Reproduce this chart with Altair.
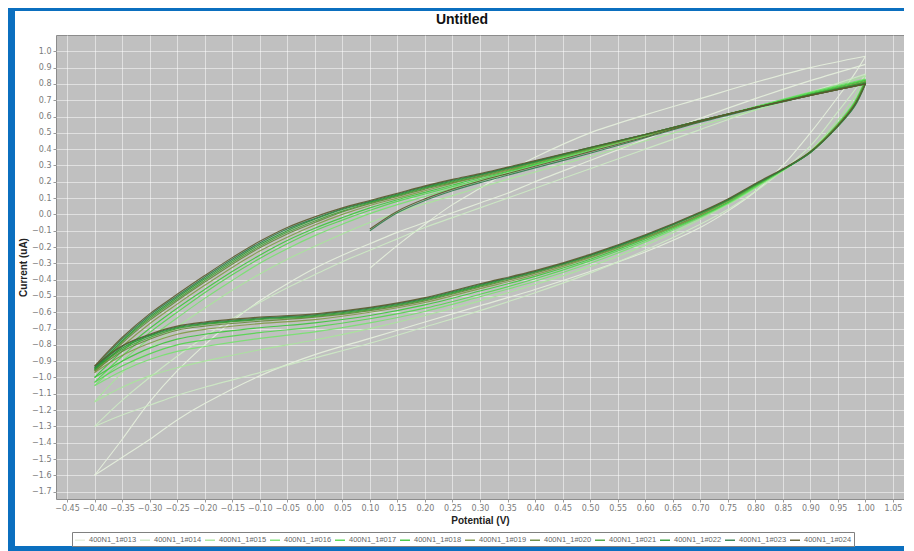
import altair as alt
import pandas as pd

# ---------------- data ----------------
SERIES = ["400N1_1#013", "400N1_1#014", "400N1_1#015", "400N1_1#016",
          "400N1_1#017", "400N1_1#018", "400N1_1#019", "400N1_1#020",
          "400N1_1#021", "400N1_1#022", "400N1_1#023", "400N1_1#024"]
COLORS = ["#e6efdd", "#cdeac4", "#a8e59b", "#76e26e", "#52d64c", "#3cc63a",
          "#7f9a45", "#66873a", "#47a03a", "#2b9b2f", "#2e7d4a", "#5b5a2c"]

# potentials of the forward (upper) branch, -0.4 V -> 1.0 V
UX = [-0.4, -0.35, -0.3, -0.25, -0.2, -0.15, -0.1, -0.05, 0.0, 0.05, 0.1, 0.15,
      0.2, 0.25, 0.3, 0.35, 0.4, 0.5, 0.6, 0.7, 0.8, 0.9, 1.0]
# potentials of the reverse (lower) branch, 1.0 V -> -0.4 V
LX = [1.0, 0.98, 0.95, 0.9, 0.85, 0.8, 0.75, 0.7, 0.6, 0.5, 0.4, 0.3, 0.2, 0.1,
      0.0, -0.1, -0.2, -0.25, -0.3, -0.35, -0.4]
# potentials of the first (start) sweep from 0.1 V
SX = [0.1, 0.15, 0.2, 0.25, 0.3, 0.35, 0.4, 0.5, 0.6, 0.7, 0.8, 0.9, 1.0]

UP_013 = [-1.6, -1.38, -1.15, -0.96, -0.8, -0.655, -0.53, -0.425, -0.33, -0.25, -0.18, -0.11,
          -0.05, 0.01, 0.07, 0.13, 0.2, 0.33, 0.46, 0.59, 0.71, 0.82, 0.92]
UP_014 = [-1.3, -1.14, -1.0, -0.87, -0.75, -0.64, -0.54, -0.45, -0.37, -0.29, -0.22, -0.15,
          -0.08, -0.02, 0.04, 0.1, 0.16, 0.28, 0.4, 0.52, 0.64, 0.75, 0.86]
UP_015 = [-1.15, -0.97, -0.82, -0.69, -0.575, -0.465, -0.365, -0.275, -0.195, -0.12, -0.05, 0.01,
          0.065, 0.115, 0.165, 0.215, 0.26, 0.355, 0.45, 0.545, 0.64, 0.74, 0.85]
UP_016 = [-1.05, -0.9, -0.76, -0.635, -0.515, -0.405, -0.3, -0.21, -0.13, -0.06, 0.005, 0.06,
          0.11, 0.16, 0.205, 0.25, 0.3, 0.39, 0.48, 0.57, 0.66, 0.75, 0.83]
UP_017 = [-1.03, -0.87, -0.725, -0.6, -0.48, -0.37, -0.27, -0.18, -0.1, -0.035, 0.025, 0.08,
          0.125, 0.17, 0.215, 0.26, 0.305, 0.395, 0.485, 0.57, 0.66, 0.745, 0.825]
UP_018 = [-1.0, -0.84, -0.7, -0.575, -0.46, -0.35, -0.25, -0.16, -0.085, -0.02, 0.04, 0.09,
          0.135, 0.18, 0.225, 0.265, 0.31, 0.4, 0.485, 0.57, 0.655, 0.74, 0.82]
UP_019 = [-0.97, -0.81, -0.67, -0.55, -0.435, -0.325, -0.225, -0.14, -0.065, 0.0, 0.055, 0.1,
          0.145, 0.19, 0.23, 0.27, 0.315, 0.4, 0.485, 0.57, 0.655, 0.735, 0.815]
UP_020 = [-0.96, -0.79, -0.65, -0.53, -0.415, -0.305, -0.205, -0.12, -0.05, 0.015, 0.065, 0.11,
          0.155, 0.195, 0.235, 0.275, 0.32, 0.405, 0.49, 0.575, 0.655, 0.735, 0.81]
UP_021 = [-0.95, -0.78, -0.64, -0.52, -0.405, -0.295, -0.195, -0.11, -0.04, 0.02, 0.07, 0.115,
          0.16, 0.2, 0.24, 0.28, 0.32, 0.405, 0.49, 0.575, 0.655, 0.735, 0.81]
UP_022 = [-0.95, -0.775, -0.63, -0.51, -0.395, -0.285, -0.185, -0.1, -0.03, 0.03, 0.075, 0.12,
          0.165, 0.205, 0.245, 0.285, 0.325, 0.41, 0.49, 0.575, 0.655, 0.735, 0.805]
UP_023 = [-0.94, -0.765, -0.62, -0.5, -0.385, -0.275, -0.175, -0.09, -0.025, 0.035, 0.08, 0.125,
          0.17, 0.21, 0.245, 0.285, 0.325, 0.41, 0.49, 0.575, 0.655, 0.73, 0.80]
UP_024 = [-0.93, -0.755, -0.61, -0.49, -0.375, -0.265, -0.165, -0.08, -0.015, 0.04, 0.085, 0.13,
          0.175, 0.215, 0.25, 0.29, 0.33, 0.41, 0.49, 0.575, 0.655, 0.73, 0.80]

LO_013 = [0.97, 0.86, 0.72, 0.5, 0.3, 0.14, 0.02, -0.08, -0.23, -0.35, -0.46, -0.56, -0.66,
          -0.76, -0.86, -0.99, -1.16, -1.26, -1.38, -1.49, -1.6]
LO_014 = [0.86, 0.76, 0.63, 0.42, 0.27, 0.14, 0.03, -0.06, -0.22, -0.36, -0.48, -0.59, -0.69,
          -0.79, -0.88, -0.97, -1.06, -1.11, -1.17, -1.23, -1.3]
LO_015 = [0.85, 0.72, 0.58, 0.39, 0.265, 0.16, 0.06, -0.03, -0.19, -0.32, -0.43, -0.53, -0.62,
          -0.7, -0.77, -0.83, -0.9, -0.94, -0.99, -1.06, -1.15]
LO_016 = [0.83, 0.69, 0.56, 0.385, 0.27, 0.165, 0.065, -0.02, -0.17, -0.3, -0.41, -0.505, -0.595,
          -0.665, -0.72, -0.76, -0.81, -0.84, -0.89, -0.96, -1.05]
LO_017 = [0.825, 0.685, 0.555, 0.385, 0.27, 0.17, 0.07, -0.015, -0.16, -0.285, -0.395, -0.49, -0.575,
          -0.64, -0.69, -0.725, -0.77, -0.8, -0.855, -0.93, -1.03]
LO_018 = [0.82, 0.68, 0.55, 0.385, 0.275, 0.175, 0.075, -0.01, -0.15, -0.275, -0.38, -0.47, -0.555,
          -0.62, -0.665, -0.695, -0.735, -0.765, -0.82, -0.9, -1.0]
LO_019 = [0.815, 0.675, 0.55, 0.385, 0.275, 0.18, 0.08, -0.005, -0.145, -0.265, -0.37, -0.455, -0.54,
          -0.6, -0.645, -0.67, -0.705, -0.735, -0.79, -0.865, -0.97]
LO_020 = [0.81, 0.67, 0.545, 0.38, 0.275, 0.18, 0.085, 0.0, -0.14, -0.26, -0.36, -0.445, -0.53,
          -0.59, -0.63, -0.655, -0.685, -0.71, -0.765, -0.84, -0.96]
LO_021 = [0.81, 0.67, 0.545, 0.38, 0.275, 0.18, 0.085, 0.005, -0.135, -0.255, -0.355, -0.44, -0.525,
          -0.585, -0.625, -0.645, -0.675, -0.7, -0.755, -0.83, -0.95]
LO_022 = [0.805, 0.665, 0.54, 0.38, 0.275, 0.185, 0.09, 0.01, -0.13, -0.25, -0.35, -0.435, -0.52,
          -0.58, -0.62, -0.64, -0.67, -0.695, -0.745, -0.82, -0.95]
LO_023 = [0.80, 0.66, 0.54, 0.38, 0.275, 0.185, 0.09, 0.01, -0.13, -0.25, -0.35, -0.43, -0.515,
          -0.575, -0.615, -0.635, -0.665, -0.69, -0.74, -0.81, -0.94]
LO_024 = [0.80, 0.67, 0.545, 0.385, 0.28, 0.19, 0.095, 0.015, -0.125, -0.245, -0.345, -0.425, -0.51,
          -0.57, -0.61, -0.63, -0.66, -0.685, -0.735, -0.805, -0.93]

ST_013 = [-0.33, -0.19, -0.06, 0.06, 0.16, 0.26, 0.35, 0.5, 0.61, 0.71, 0.81, 0.9, 0.97]
ST_023 = [-0.1, 0.01, 0.085, 0.145, 0.195, 0.24, 0.285, 0.375, 0.47, 0.565, 0.65, 0.73, 0.80]
ST_024 = [-0.09, 0.02, 0.095, 0.155, 0.205, 0.25, 0.295, 0.385, 0.475, 0.57, 0.655, 0.73, 0.80]

X_TICKS = [-0.45, -0.4, -0.35, -0.3, -0.25, -0.2, -0.15, -0.1, -0.05, 0.0, 0.05, 0.1, 0.15,
           0.2, 0.25, 0.3, 0.35, 0.4, 0.45, 0.5, 0.55, 0.6, 0.65, 0.7, 0.75, 0.8, 0.85, 0.9,
           0.95, 1.0, 1.05]
Y_TICKS = [-1.7, -1.6, -1.5, -1.4, -1.3, -1.2, -1.1, -1.0, -0.9, -0.8, -0.7, -0.6, -0.5,
           -0.4, -0.3, -0.2, -0.1, 0.0, 0.1, 0.2, 0.3, 0.4, 0.5, 0.6, 0.7, 0.8, 0.9, 1.0]

UPS = [UP_013, UP_014, UP_015, UP_016, UP_017, UP_018, UP_019, UP_020, UP_021, UP_022, UP_023, UP_024]
LOS = [LO_013, LO_014, LO_015, LO_016, LO_017, LO_018, LO_019, LO_020, LO_021, LO_022, LO_023, LO_024]
STARTS = {"400N1_1#013": ST_013, "400N1_1#023": ST_023, "400N1_1#024": ST_024}

rows = []
for s, up, lo in zip(SERIES, UPS, LOS):
    i = 0
    if s in STARTS:
        for x, y in zip(SX, STARTS[s]):
            rows.append({"series": s, "seg": s + "a", "i": i, "E": x, "I": y}); i += 1
    for x, y in zip(LX, lo):
        rows.append({"series": s, "seg": s + "b", "i": i, "E": x, "I": y}); i += 1
    for x, y in zip(UX, up):
        rows.append({"series": s, "seg": s + "c", "i": i, "E": x, "I": y}); i += 1
df = pd.DataFrame(rows)

# ---------------- layout / style ----------------
W, H = 848, 464
BLUE = "#0b6fbf"
GRAY_TXT = "#7a7a7a"

xscale = alt.Scale(domain=[-0.47, 1.07], nice=False, zero=False)
yscale = alt.Scale(domain=[-1.745, 1.10], nice=False, zero=False)

lines = alt.Chart(df).mark_line(strokeWidth=1.15, opacity=0.9, interpolate="catmull-rom").encode(
    x=alt.X("E:Q", scale=xscale,
            axis=alt.Axis(values=X_TICKS, format=".2f", title="Potential (V)",
                          labelFontSize=8, labelColor=GRAY_TXT, labelFont="DejaVu Sans",
                          labelFlush=False, labelOverlap=False, labelPadding=2,
                          tickSize=3, tickColor="#9a9a9a", domain=False,
                          grid=True, gridColor="#ffffff", gridOpacity=0.5,
                          titleFont="Liberation Sans", titleFontSize=10, titleFontWeight="bold",
                          titleColor="#222222", titlePadding=3)),
    y=alt.Y("I:Q", scale=yscale,
            axis=alt.Axis(values=Y_TICKS, format=".1f", title="Current (uA)",
                          labelFontSize=8, labelColor=GRAY_TXT, labelFont="DejaVu Sans",
                          labelFlush=False, labelOverlap=False, labelPadding=2,
                          tickSize=3, tickColor="#9a9a9a", domain=False,
                          grid=True, gridColor="#ffffff", gridOpacity=0.5,
                          titleFont="Liberation Sans", titleFontSize=10, titleFontWeight="bold",
                          titleColor="#222222", titlePadding=3)),
    color=alt.Color("series:N", scale=alt.Scale(domain=SERIES, range=COLORS),
                    legend=alt.Legend(title=None, orient="none", legendX=16, legendY=497,
                                      direction="horizontal", columns=12,
                                      symbolType="stroke", symbolSize=100, symbolStrokeWidth=1.5,
                                      labelFontSize=7.5, labelColor="#666666", labelFont="Liberation Sans",
                                      columnPadding=0, padding=2, strokeColor="#808080",
                                      fillColor="#ffffff", labelOffset=3)),
    detail="seg:N",
    order="i:Q",
)

one = pd.DataFrame({"k": [0]})
base = alt.Chart(one)
left = base.mark_rect(color=BLUE).encode(x=alt.value(-48), x2=alt.value(-41), y=alt.value(-27), y2=alt.value(516))
top = base.mark_rect(color=BLUE).encode(x=alt.value(-48), x2=alt.value(848), y=alt.value(-27), y2=alt.value(-24))
bottom = base.mark_rect(color=BLUE).encode(x=alt.value(-48), x2=alt.value(848), y=alt.value(511), y2=alt.value(516))
title = base.mark_text(text="Untitled", fontSize=14, fontWeight="bold", font="Liberation Sans",
                       color="#111111", align="center", baseline="middle").encode(
    x=alt.value(406), y=alt.value(-15))

chart = alt.layer(lines, left, top, bottom, title).properties(
    width=W, height=H, padding=0, background="#ffffff"
).configure_view(fill="#c0c0c0", stroke="#8c8c8c", strokeWidth=1)

chart.save("out.html", embed_options={"renderer": "svg", "actions": False})
